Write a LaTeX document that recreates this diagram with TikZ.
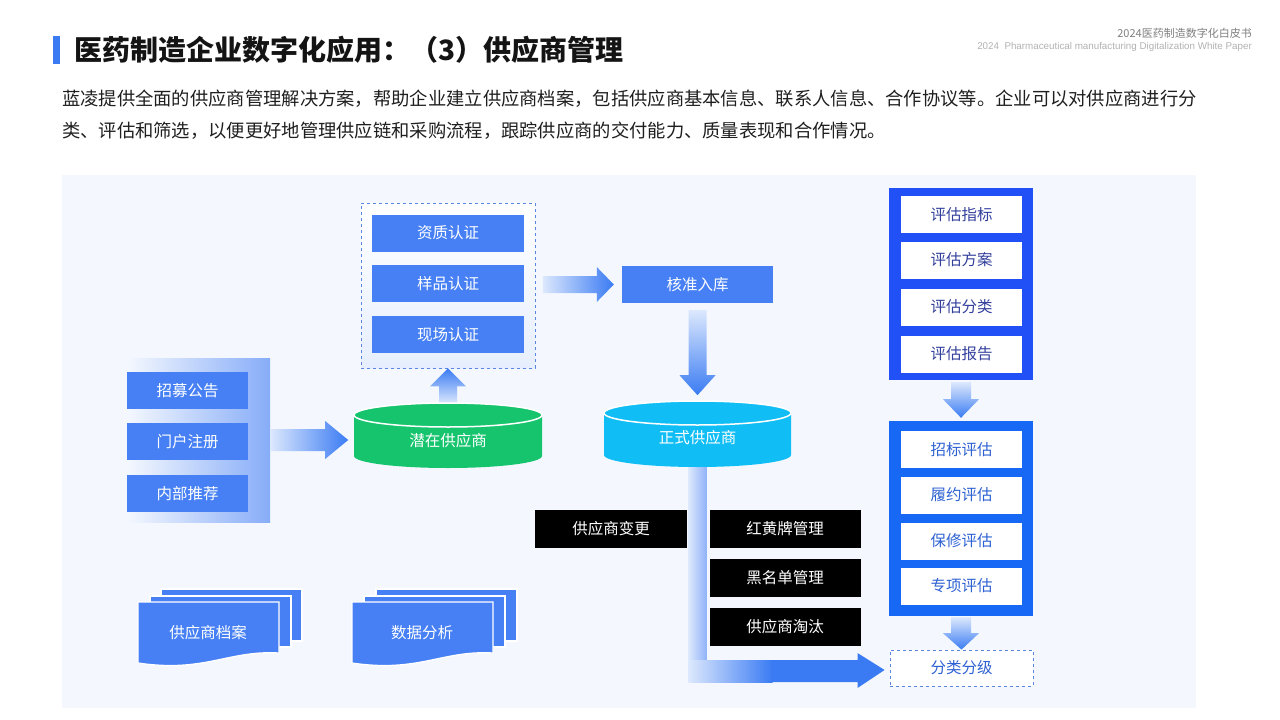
\documentclass[tikz,border=0pt]{standalone}
\usepackage{fontspec}
\setmainfont{Noto Sans CJK SC}
\newfontfamily\enfont{Liberation Sans}
\usepackage{tikz}
\usetikzlibrary{calc}
\definecolor{mybg}{HTML}{F4F8FE}
\definecolor{myblue}{HTML}{4680F4}
\definecolor{mybar}{HTML}{3A7BF3}
\definecolor{mylight}{HTML}{DCE8FD}
\definecolor{mygreen}{HTML}{17C46E}
\definecolor{mycyan}{HTML}{10BEF5}
\definecolor{mydeep}{HTML}{2050F6}
\definecolor{mymid}{HTML}{1668F5}
\definecolor{mynavy}{HTML}{33409C}
\definecolor{mytext}{HTML}{2E62D2}
\definecolor{mydash}{HTML}{5A86E0}
\tikzset{
  % blue box
  bbox/.style={fill=myblue, text=white, inner sep=0mm, minimum width=152, minimum height=37, font=\fontsize{15.5}{16}\selectfont},
  % small blue box (left column)
  sbox/.style={bbox, minimum width=121},
  % black box
  kbox/.style={fill=black, text=white, inner sep=0mm, minimum width=152, minimum height=38, font=\fontsize{15.5}{16}\selectfont},
  % white box inside the right panels
  wbox/.style={fill=white, inner sep=0mm, minimum width=121, minimum height=37, font=\fontsize{15.5}{16}\selectfont},
  % dashed frame
  dbox/.style={draw=mydash, dashed, line width=0.8, inner sep=0mm},
  % paragraph line
  para/.style={anchor=west, inner sep=0mm, text=black!88, font=\fontsize{18.3}{19}\selectfont},
  % stacked page
  page/.style={fill=myblue, draw=white, line width=1.3},
  % shaded block arrows
  harrow/.style={left color=mylight, right color=mybar},
  uarrow/.style={bottom color=mylight, top color=mybar},
  darrow/.style={top color=mylight, bottom color=mybar}
}
\begin{document}
\begin{tikzpicture}[x=1pt, y=-1pt]
\useasboundingbox (0,0) rectangle (1280,720);
\fill[white] (0,0) rectangle (1280,720);
\fill[mybg] (62,175) rectangle (1196,708);
%%%%%%%%%%%%%%%%%%%%%%%%%%%%%%%%%%%%%%% heading
\fill[mybar] (53,36) rectangle (60,64);
\node[anchor=west, inner sep=0mm, text=black!92, font=\fontsize{28}{28}\selectfont\bfseries] (title) at (74,50) {医药制造企业数字化应用：（3）供应商管理};
\node[anchor=east, inner sep=0mm, text=black!50, font=\fontsize{11}{11}\selectfont] (book) at (1252,33) {2024医药制造数字化白皮书};
\node[anchor=east, inner sep=0mm, text=black!30, font=\enfont\fontsize{9.8}{10}\selectfont] (bookeng) at (1252,47) {2024\ \ Pharmaceutical manufacturing Digitalization White Paper};
\node[para] (line1) at (62,99) {蓝凌提供全面的供应商管理解决方案，帮助企业建立供应商档案，包括供应商基本信息、联系人信息、合作协议等。企业可以对供应商进行分};
\node[para] (line2) at (62,131) {类、评估和筛选，以便更好地管理供应链和采购流程，跟踪供应商的交付能力、质量表现和合作情况。};
%%%%%%%%%%%%%%%%%%%%%%%%%%%%%%%%%%%%%%% sources
\node[inner sep=0mm, left color=mybg, right color=myblue!65, minimum width=143, minimum height=164] (src) at (198.5,440) {};
\node[sbox] (recruit) at (187.5,390.5) {招募公告};
\node[sbox] (portal) at (187.5,441.5) {门户注册};
\node[sbox] (inner) at (187.5,493.5) {内部推荐};
%%%%%%%%%%%%%%%%%%%%%%%%%%%%%%%%%%%%%%% certification
\node[dbox, top color=white, bottom color=mylight!70, minimum width=174, minimum height=165] (cert) at (448,285.5) {};
\node[bbox] (quali) at (448,233) {资质认证};
\node[bbox] (sample) at (448,283.5) {样品认证};
\node[bbox] (site) at (448,334.5) {现场认证};
\node[bbox, minimum width=151] (approve) at (697.5,284.5) {核准入库};
%%%%%%%%%%%%%%%%%%%%%%%%%%%%%%%%%%%%%%% arrows
\path[harrow] ($(src.east)+(0,-11)$) -- ($(src.east)+(55,-11)$) -- ($(src.east)+(55,-19)$) -- ($(src.east)+(78,0)$) -- ($(src.east)+(55,19)$) -- ($(src.east)+(55,11)$) -- ($(src.east)+(0,11)$) -- cycle;
\path[uarrow] ($(cert.south)+(-9,35)$) -- ($(cert.south)+(-9,18)$) -- ($(cert.south)+(-18,18)$) -- (cert.south) -- ($(cert.south)+(18,18)$) -- ($(cert.south)+(9,18)$) -- ($(cert.south)+(9,35)$) -- cycle;
\path[harrow] ($(approve.west)+(-79,-8.5)$) -- ($(approve.west)+(-25,-8.5)$) -- ($(approve.west)+(-25,-17.5)$) -- ($(approve.west)+(-8,0)$) -- ($(approve.west)+(-25,17.5)$) -- ($(approve.west)+(-25,8.5)$) -- ($(approve.west)+(-79,8.5)$) -- cycle;
\path[darrow] ($(approve.south)+(-9,7)$) -- ($(approve.south)+(-9,72)$) -- ($(approve.south)+(-18,72)$) -- ($(approve.south)+(0,92)$) -- ($(approve.south)+(18,72)$) -- ($(approve.south)+(9,72)$) -- ($(approve.south)+(9,7)$) -- cycle;
%%%%%%%%%%%%%%%%%%%%%%%%%%%%%%%%%%%%%%% right panels
\node[inner sep=0mm, fill=mydeep, minimum width=144, minimum height=192] (evalA) at (961,284) {};
\node[inner sep=0mm, fill=mymid, minimum width=144, minimum height=195] (evalB) at (961,518.5) {};
\node[dbox, fill=white, minimum width=143, minimum height=36, font=\fontsize{15.5}{16}\selectfont, text=mytext] (grade) at (961.5,668) {分类分级};
\node[wbox, text=mynavy] (index) at (961.5,214.5) {评估指标};
\node[wbox, text=mynavy] (plan) at (961.5,260) {评估方案};
\node[wbox, text=mynavy] (classify) at (961.5,307) {评估分类};
\node[wbox, text=mynavy] (report) at (961.5,354) {评估报告};
\node[wbox, text=mytext] (bid) at (961.5,449.5) {招标评估};
\node[wbox, text=mytext] (perform) at (961.5,495) {履约评估};
\node[wbox, text=mytext] (repair) at (961.5,541) {保修评估};
\node[wbox, text=mytext] (special) at (961.5,586) {专项评估};
\path[darrow] ($(evalA.south)+(-10,2)$) -- ($(evalA.south)+(-10,19)$) -- ($(evalA.south)+(-18,19)$) -- ($(evalB.north)+(0,-3)$) -- ($(evalA.south)+(18,19)$) -- ($(evalA.south)+(10,19)$) -- ($(evalA.south)+(10,2)$) -- cycle;
\path[darrow] ($(evalB.south)+(-10,1)$) -- ($(evalB.south)+(-10,17)$) -- ($(evalB.south)+(-18,17)$) -- (grade.north) -- ($(evalB.south)+(18,17)$) -- ($(evalB.south)+(10,17)$) -- ($(evalB.south)+(10,1)$) -- cycle;
%%%%%%%%%%%%%%%%%%%%%%%%%%%%%%%%%%%%%%% elbow arrow to grading
\coordinate (turn) at ($(approve.south |- grade.west)+(0,3)$);
\path[left color=mylight, right color=myblue!60] ($(turn)+(-9,-210)$) rectangle ($(turn)+(9,11)$);
\path[left color=mylight, right color=mybar] ($(turn)+(-9,-11)$) rectangle ($(turn)+(75,11)$);
\fill[mybar] ($(turn)+(74,-11)$) -- ($(turn)+(160,-11)$) -- ($(turn)+(160,-18)$) -- ($(grade.west)+(-5,2)$) -- ($(turn)+(160,17)$) -- ($(turn)+(160,11)$) -- ($(turn)+(74,11)$) -- cycle;
%%%%%%%%%%%%%%%%%%%%%%%%%%%%%%%%%%%%%%% cylinders
\fill[mygreen] (354,415) -- (354,456) arc[start angle=180, end angle=0, x radius=94, y radius=12] -- (542,415) -- cycle;
\draw[white, line width=1.5, fill=mygreen] (448,415) ellipse[x radius=94, y radius=12];
\node[text=white, inner sep=0mm, font=\fontsize{15.5}{16}\selectfont] (pot) at (448,441) {潜在供应商};
\fill[mycyan] (604,413) -- (604,455) arc[start angle=180, end angle=0, x radius=93.5, y radius=12] -- (791,413) -- cycle;
\draw[white, line width=1.5, fill=mycyan] (697.5,413) ellipse[x radius=93.5, y radius=12];
\node[text=white, inner sep=0mm, font=\fontsize{15.5}{16}\selectfont] (formal) at (697.5,438) {正式供应商};
%%%%%%%%%%%%%%%%%%%%%%%%%%%%%%%%%%%%%%% supplier actions
\node[kbox] (change) at (611,529) {供应商变更};
\node[kbox, minimum width=151] (card) at (785,529) {红黄牌管理};
\node[kbox, minimum width=151] (blacklist) at (785,578) {黑名单管理};
\node[kbox, minimum width=151] (eliminate) at (785,627) {供应商淘汰};
%%%%%%%%%%%%%%%%%%%%%%%%%%%%%%%%%%%%%%% stacked documents
\filldraw[page] (161,589) rectangle (302,641);
\filldraw[page] (150,596) rectangle (291,647);
\filldraw[page] (138,602) -- (279,602) -- (279,653) .. controls (228,650) and (205,673) .. (138,663) -- cycle;
\node[text=white, inner sep=0mm, font=\fontsize{15.5}{16}\selectfont] (archive) at (208,633) {供应商档案};
\filldraw[page] (376,589) rectangle (517,641);
\filldraw[page] (364,596) rectangle (505,647);
\filldraw[page] (352,602) -- (493,602) -- (493,653) .. controls (442,650) and (419,673) .. (352,663) -- cycle;
\node[text=white, inner sep=0mm, font=\fontsize{15.5}{16}\selectfont] (analysis) at (422,633) {数据分析};
\end{tikzpicture}
\end{document}
